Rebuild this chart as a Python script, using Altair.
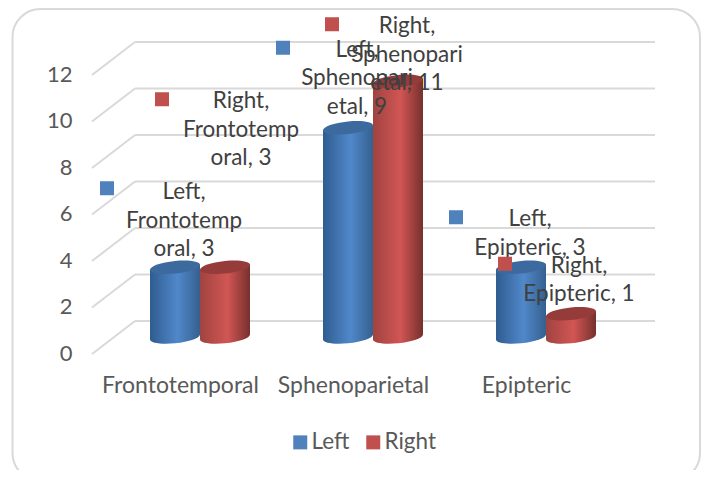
import altair as alt
import pandas as pd

categories = ["Frontotemporal", "Sphenoparietal", "Epipteric"]
series_names = ["Left", "Right"]
left_values = [3, 9, 3]
right_values = [3, 11, 1]
grid_values = [0, 2, 4, 6, 8, 10, 12]

W, H = 693, 462
PX_PER_UNIT = 23.25
PX_PER_SLOT = 173.0
BACK_ZERO = 313.0
FIRST_CENTER = 192.0
BASE = -16 / PX_PER_UNIT
TILT = 2.5 / PX_PER_UNIT
CYL_OFFSET = 25 / PX_PER_SLOT
CYL_HALF = 25 / PX_PER_SLOT
FONT = "Lato"
BLUE, RED = "#4f81bd", "#c0504d"
BLUE_TOP, RED_TOP = "#3d6a9e", "#953c3a"

y_scale = alt.Scale(domain=[(BACK_ZERO - H) / PX_PER_UNIT, BACK_ZERO / PX_PER_UNIT], range=[H, 0], nice=False, zero=False)
x_scale = alt.Scale(domain=[-FIRST_CENTER / PX_PER_SLOT, (W - FIRST_CENTER) / PX_PER_SLOT], range=[0, W], nice=False, zero=False)

x_axis = alt.Axis(values=[0, 1, 2], labelExpr="['" + "','".join(categories) + "'][datum.value]",
                  title=None, domain=False, ticks=False, grid=False, offset=-96, labelPadding=0, labelOffset=-20,
                  labelFont=FONT, labelFontSize=23, labelColor="#595959", labelAngle=0)
y_axis = alt.Axis(values=grid_values, title=None, domain=False, ticks=False, grid=False, offset=-64, labelPadding=0,
                  labelOffset=32, labelFont=FONT, labelFontSize=22, labelColor="#595959")


def xs(field):
    return alt.X(field, scale=x_scale, axis=x_axis)


def ys(field):
    return alt.Y(field, scale=y_scale, axis=y_axis)


def wrap(cat, val):
    s = f"{cat}, {val}"
    return s if len(s) <= 12 else s[:10] + "\n" + s[10:]


rows = []
body_rows = []
for si, (name, vals) in enumerate(zip(series_names, [left_values, right_values])):
    for ci, (cat, v) in enumerate(zip(categories, vals)):
        c = ci + (-1 if si == 0 else 1) * CYL_OFFSET
        rows.append(dict(series=name, category=cat, value=v, c=c,
                         top=v + BASE, base=BASE, label=f"{name},\n{wrap(cat, v)}"))
        # slanted silhouette of the cylinder side, matching the tilt of its end ellipses
        for xpos, t in [(c - CYL_HALF, -TILT), (c + CYL_HALF, TILT)]:
            body_rows.append(dict(series=name, category=cat, px=xpos, y_top=v + BASE + t, y_base=BASE + t))
df = pd.DataFrame(rows)
body_df = pd.DataFrame(body_rows)

# manual label placement relative to each cylinder top (text dx, dy of first line, key dx, dy)
placement = {
    ("Left", "Frontotemporal"): (9, -75, -68, -79),
    ("Right", "Frontotemporal"): (16, -166, -63, -168),
    ("Left", "Sphenoparietal"): (9, -78, -65, -80),
    ("Right", "Sphenoparietal"): (9, -55, -66, -57),
    ("Left", "Epipteric"): (9, -48, -65, -50),
    ("Right", "Epipteric"): (8, -48, -66, -50),
}


def gradient(edge_l, mid, edge_r):
    return alt.Gradient(gradient="linear", x1=0, x2=1, y1=0, y2=0,
                        stops=[alt.GradientStop(color=edge_l, offset=0),
                               alt.GradientStop(color=mid, offset=0.55),
                               alt.GradientStop(color=edge_r, offset=1)])


ELLIPSE = "M-1,0.1A1,0.25,-6,1,1,1,-0.1A1,0.25,-6,1,1,-1,0.1Z"

grid_df = pd.DataFrame({"value": grid_values})
border = alt.Chart(alt.Data(values=[{"a": 1}])).mark_rect(
    fill="transparent", stroke="#d9d9d9", strokeWidth=2, cornerRadius=28
).encode(x=alt.value(4.5), x2=alt.value(692), y=alt.value(1), y2=alt.value(473))
grid_back = alt.Chart(grid_df).mark_rule(color="#d9d9d9", strokeWidth=2).encode(
    y=ys("value:Q"), x=alt.value(127), x2=alt.value(647))
grid_side = alt.Chart(grid_df).transform_calculate(v2="datum.value-33/23.25").mark_rule(
    color="#d9d9d9", strokeWidth=2
).encode(y=ys("value:Q"), y2="v2:Q", x=alt.value(127), x2=alt.value(84))

layers = [border, grid_back, grid_side]
for name, grad, top_col in [("Left", gradient("#2f5c90", "#5088ca", "#35608f"), BLUE_TOP),
                            ("Right", gradient("#a04341", "#d15653", "#76302e"), RED_TOP)]:
    d = df[df.series == name]
    b = body_df[body_df.series == name]
    layers.append(alt.Chart(d).mark_point(shape=ELLIPSE, size=2500, filled=True, opacity=1, fill=grad, strokeWidth=0).encode(
        x=xs("c:Q"), y=ys("base:Q")))
    layers.append(alt.Chart(b).mark_area(fill=grad, opacity=1).encode(
        x=xs("px:Q"), y=ys("y_top:Q"), y2="y_base:Q", detail="category:N"))
    layers.append(alt.Chart(d).mark_point(shape=ELLIPSE, size=2500, filled=True, opacity=1, fill=top_col, strokeWidth=0).encode(
        x=xs("c:Q"), y=ys("top:Q")))

color = alt.Color("series:N", scale=alt.Scale(domain=series_names, range=[BLUE, RED]), legend=None)
legend_color = alt.Color("series:N", scale=alt.Scale(domain=series_names, range=[BLUE, RED]),
                         legend=alt.Legend(orient="none", legendX=281, legendY=423, direction="horizontal", title=None,
                                           symbolType="square", symbolSize=196, symbolStrokeWidth=0,
                                           labelFont=FONT, labelFontSize=22.5, labelColor="#595959",
                                           labelOffset=0, columnPadding=12))

first = True
for rec in rows:
    tdx, tdy, kdx, kdy = placement[(rec["series"], rec["category"])]
    d = df[(df.series == rec["series"]) & (df.category == rec["category"])]
    layers.append(alt.Chart(d).mark_point(shape="square", size=196, filled=True, opacity=1, xOffset=kdx, yOffset=kdy).encode(
        x=xs("c:Q"), y=ys("top:Q"), color=legend_color if first else color))
    first = False
    layers.append(alt.Chart(d).mark_text(font=FONT, fontSize=22.5, color="#404040", lineBreak="\n", lineHeight=28.5,
                                         dx=tdx, dy=tdy, align="center", baseline="middle").encode(
        x=xs("c:Q"), y=ys("top:Q"), text="label:N"))

chart = alt.layer(*layers).properties(width=W, height=H, padding=0, background="white",
                                      autosize=alt.AutoSizeParams(type="none")).configure_view(stroke=None)
chart.save("out.html", embed_options={"renderer": "svg", "actions": False})
